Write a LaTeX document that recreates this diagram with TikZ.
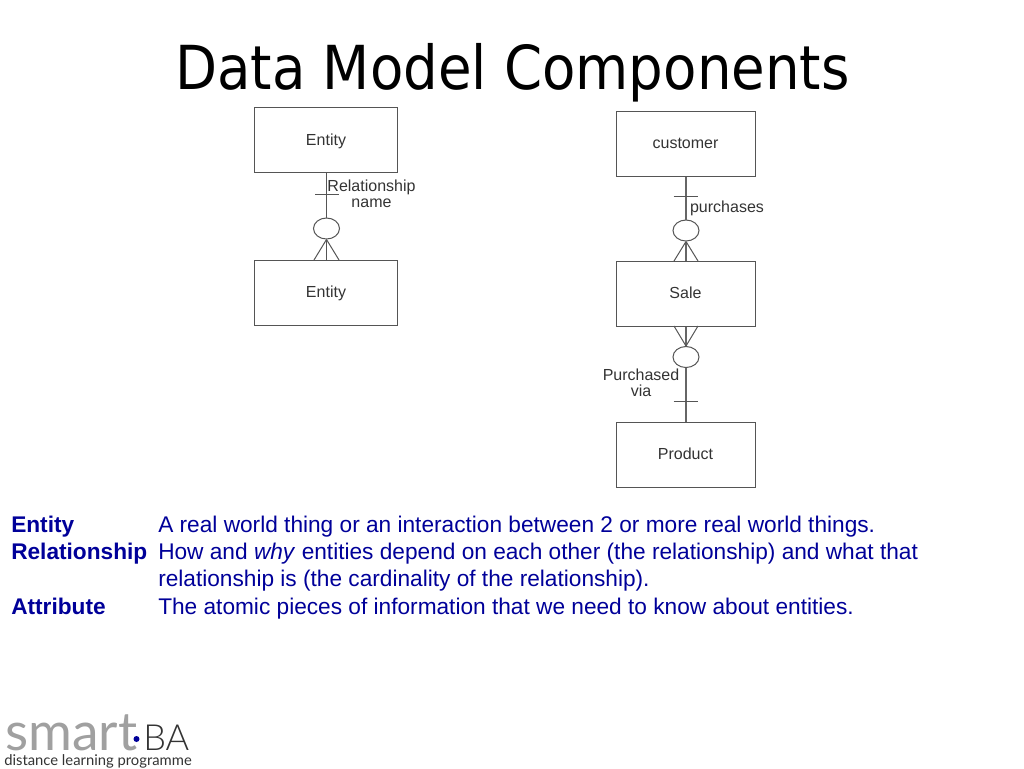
\documentclass[tikz,border=0pt]{standalone}
\usepackage{fontspec}
\setmainfont{Liberation Sans}
\newfontfamily\titlefont{DejaVu Sans}[FakeStretch=0.9]
\newfontfamily\logofont{Lato}
\newfontfamily\balogofont{Lato Light}
\definecolor{navy}{HTML}{000099}
\definecolor{inkline}{HTML}{555555}
\definecolor{inklineb}{HTML}{666666}
\definecolor{inktext}{HTML}{333333}
\definecolor{logogrey}{HTML}{A0A0A0}
\tikzset{
  x=0.75pt,y=-0.75pt,
  ent/.style={draw=inkline,line width=0.75pt,minimum width=107.5pt,minimum height=48.75pt,inner sep=0pt,text=inktext,font=\fontsize{12}{12}\selectfont,text height=7.5pt,text depth=0pt},
  rel/.style={draw=inkline,line width=0.75pt,ellipse,minimum width=19.5pt,minimum height=15.75pt,inner sep=0pt},
  wire/.style={draw=inkline,line width=0.75pt},
  wireb/.style={draw=inklineb,line width=1pt},
  lab/.style={text=inktext,font=\fontsize{12}{12}\selectfont,align=center,inner sep=0pt},
  term/.style={text=navy,font=\fontsize{17}{20}\selectfont\bfseries,anchor=base west,inner sep=0pt},
  defn/.style={text=navy,font=\fontsize{17}{20}\selectfont,anchor=base west,inner sep=0pt},
}
\usetikzlibrary{shapes.geometric}
\begin{document}
\begin{tikzpicture}
\useasboundingbox (0,0) rectangle (1024,768);
\node[font=\titlefont\fontsize{45.5}{50}\selectfont,inner sep=0pt,anchor=base] (title) at (512.5,89.5) {Data Model Components};
% left diagram
\node[ent] (e1) at (326,140) {Entity};
\node[ent] (e2) at (326,292.5) {Entity};
\node[rel] (c1) at (326.5,228.5) {};
\path[wire] (e1.south -| c1) -- (c1.north);
\path[wire] (c1.south) -- (e2.north -| c1);
\coordinate (f1a) at (314,260); \coordinate (f1b) at (339,260);
\path[wire] (c1.south) -- (f1a) (c1.south) -- (f1b);
\coordinate (b1a) at (315,194); \coordinate (b1b) at (338.5,194);
\path[wire] (b1a) -- (b1b);
\node[lab] (rn) at (371.5,193.5) {Relationship\\name};
% right diagram
\node[ent,minimum width=104.25pt] (cu) at (685.5,143.5) {customer};
\node[ent,minimum width=104.25pt] (sa) at (685.5,293.5) {Sale};
\node[ent,minimum width=104.25pt] (pr) at (685.5,454.5) {Product};
\node[rel] (c2) at (686,230.5) {};
\node[rel] (c3) at (686,357) {};
\path[wireb] (cu.south -| c2) -- (c2.north);
\path[wireb] (c2.south) -- (sa.north -| c2);
\path[wireb] (sa.south -| c3) -- (c3.north);
\path[wireb] (c3.south) -- (pr.north -| c3);
\coordinate (f2a) at (674,261); \coordinate (f2b) at (698,261);
\path[wire] (c2.south) -- (f2a) (c2.south) -- (f2b);
\coordinate (f3a) at (674,326); \coordinate (f3b) at (698,326);
\path[wire] (c3.north) -- (f3a) (c3.north) -- (f3b);
\coordinate (b2a) at (673.5,196); \coordinate (b2b) at (698,196);
\path[wire] (b2a) -- (b2b);
\coordinate (b3a) at (673.5,401); \coordinate (b3b) at (698,401);
\path[wire] (b3a) -- (b3b);
\node[lab] (pu) at (727,208.5) {purchases};
\node[lab] (pv) at (641,383) {Purchased\\via};
% definitions
\node[term] (t1) at (11,532) {Entity};
\node[defn] (d1) at (158,532) {A real world thing or an interaction between 2 or more real world things.};
\node[term] (t2) at (11,559) {Relationship};
\node[defn] (d2) at (158,559) {How and \textit{why} entities depend on each other (the relationship) and what that};
\node[defn] (d2b) at (158,586) {relationship is (the cardinality of the relationship).};
\node[term] (t3) at (11,614) {Attribute};
\node[defn] (d3) at (158,614) {The atomic pieces of information that we need to know about entities.};
% logo
\node[anchor=base west,inner sep=0pt,text=logogrey,font=\logofont\fontsize{40}{40}\selectfont] (lg) at (5,750) {smart};
\node[circle,fill=navy,inner sep=0pt,minimum size=4.5pt] (dot) at (136.5,739) {};
\node[anchor=base west,inner sep=0pt,text=inktext,font=\balogofont\fontsize{27}{27}\selectfont] (ba) at (143,750) {BA};
\node[anchor=base west,inner sep=0pt,text=inktext,font=\logofont\fontsize{11.1}{12}\selectfont] (dl) at (4,765) {distance learning programme};
\end{tikzpicture}
\end{document}
